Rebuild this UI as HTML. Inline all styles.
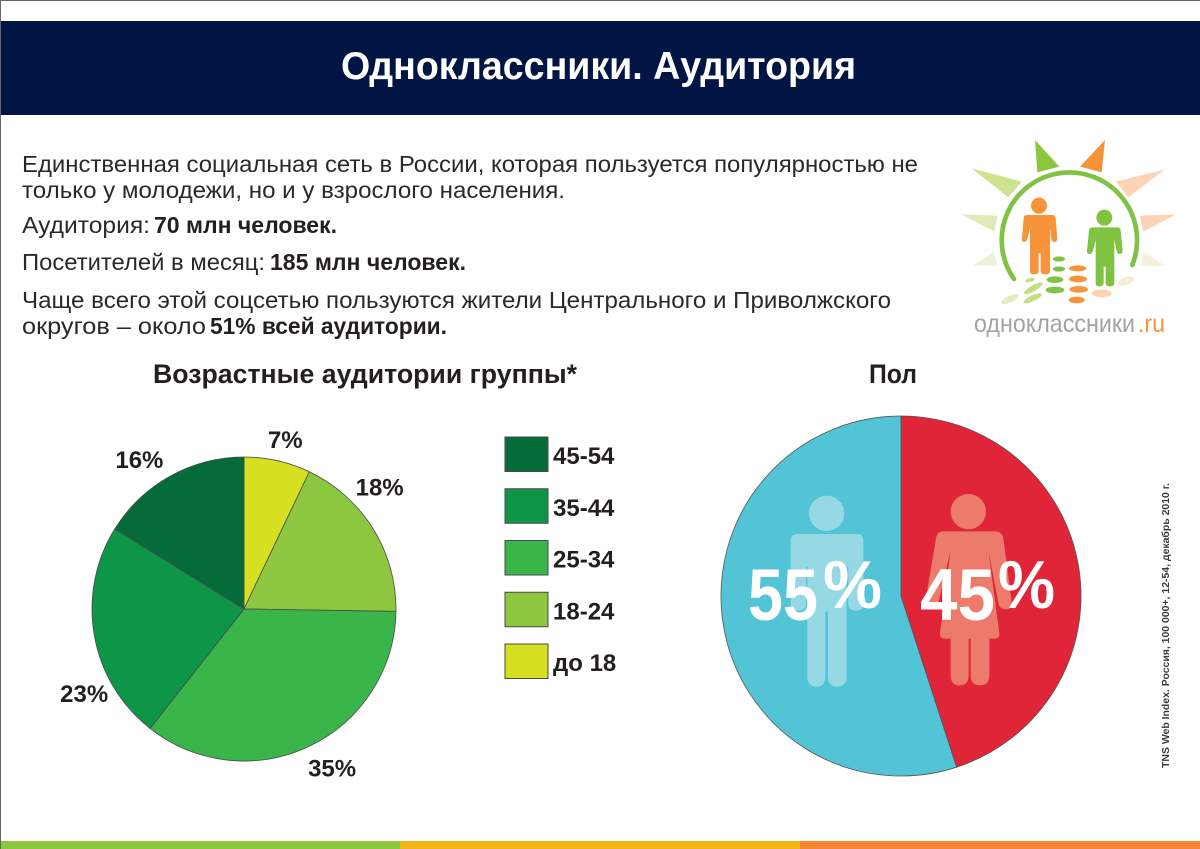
<!DOCTYPE html>
<html lang="ru">
<head>
<meta charset="utf-8">
<title>Одноклассники. Аудитория</title>
<style>
html,body{margin:0;padding:0;background:#fff;width:1200px;height:849px;overflow:hidden}
svg{display:block;font-family:"Liberation Sans","Noto Sans CJK SC",sans-serif}
.body{font-size:23.5px;fill:#2b2829}
.b{font-weight:bold;fill:#231f20;font-size:23px}
.h{font-size:27px;font-weight:bold;fill:#231f20}
</style>
</head>
<body>
<svg id="slide" xmlns="http://www.w3.org/2000/svg" width="1200" height="849" viewBox="0 0 1200 849">
  <rect width="1200" height="849" fill="#fff"/>
  <rect width="1200" height="1" fill="#666"/>
  <rect width="1" height="849" fill="#666"/>

  <rect x="1" y="21" width="1199" height="94" fill="#001544"/>
  <text x="341" y="79" font-size="39" font-weight="bold" fill="#fff" textLength="515">Одноклассники. Аудитория</text>

  <g>
    <text class="body" x="22" y="172" textLength="896">Единственная социальная сеть в России, которая пользуется популярностью не</text>
    <text class="body" x="22" y="198" textLength="543">только у молодежи, но и у взрослого населения.</text>
    <text class="body" x="22" y="233" textLength="128">Аудитория:</text>
    <text class="body b" x="154" y="233" textLength="183">70 млн человек.</text>
    <text class="body" x="22" y="270" textLength="243">Посетителей в месяц:</text>
    <text class="body b" x="270" y="270" textLength="196">185 млн человек.</text>
    <text class="body" x="22" y="308" textLength="869">Чаще всего этой соцсетью пользуются жители Центрального и Приволжского</text>
    <text class="body" x="22" y="334" textLength="184">округов – около</text>
    <text class="body b" x="210" y="334" textLength="237">51% всей аудитории.</text>
  </g>

  <g transform="translate(950 125) scale(.33333)">
    <polygon points="255,45 328,125 262,142" fill="#8cc63f"/>
    <polygon points="465,45 455,142 390,125" fill="#f7943a"/>
    <polygon points="65,130 215,170 175,217" fill="#cfe28f"/>
    <polygon points="645,133 535,217 498,170" fill="#fbd3b5"/>
    <polygon points="35,268 142,272 133,320" fill="#dfeab5"/>
    <polygon points="678,268 570,272 580,320" fill="#fbd3b5"/>
    <polygon points="67,422 132,380 142,422" fill="#ecf2d8"/>
    <polygon points="645,422 580,380 572,422" fill="#f5efdc"/>
    <path d="M192 462A203 203 0 1 1 547 420" fill="none" stroke="#80c241" stroke-width="14" stroke-linecap="round"/>
    <circle cx="267" cy="242" r="24" fill="#f7943a"/>
    <path d="M230 270H308Q316 270 317 280L322 340Q322 351 313 351Q306 351 304 342L300 310V440Q300 448 287 448Q273 448 272 440V385H266V440Q265 448 252 448Q240 448 240 440V310L232 342Q230 351 222 351Q214 351 216 340L221 280Q222 270 230 270Z" fill="#f7943a"/>
    <circle cx="463" cy="278" r="24" fill="#80c241"/>
    <path d="M426 307H503Q511 307 512 317L518 376Q518 387 509 387Q502 387 500 378L493 345V475Q493 484 480 484Q468 484 467 475V425H461V475Q460 484 448 484Q437 484 437 475V345L429 378Q427 387 418 387Q410 387 411 376L417 317Q418 307 426 307Z" fill="#80c241"/>
    <g fill="#80c241">
      <ellipse cx="327" cy="402" rx="18" ry="8"/><ellipse cx="327" cy="432" rx="18" ry="8"/>
      <ellipse cx="315" cy="464" rx="25" ry="10"/><ellipse cx="315" cy="495" rx="28" ry="10"/>
    </g>
    <g fill="#f7943a">
      <ellipse cx="383" cy="430" rx="26" ry="9"/><ellipse cx="384" cy="462" rx="27" ry="10"/>
      <ellipse cx="386" cy="493" rx="28" ry="10"/><ellipse cx="380" cy="525" rx="24" ry="10"/>
    </g>
    <g fill="#c5dd85">
      <ellipse cx="250" cy="490" rx="32" ry="9" transform="rotate(-30 250 490)"/>
      <ellipse cx="248" cy="520" rx="30" ry="9" transform="rotate(-25 248 520)"/>
      <ellipse cx="240" cy="465" rx="15" ry="6" transform="rotate(-15 240 465)"/>
    </g>
    <ellipse cx="180" cy="522" rx="28" ry="10" transform="rotate(-25 180 522)" fill="#e2edc0"/>
    <ellipse cx="455" cy="505" rx="30" ry="12" fill="#fbd3b5"/>
    <ellipse cx="528" cy="468" rx="25" ry="12" transform="rotate(-20 528 468)" fill="#f3efd5"/>
  </g>
  <text x="974" y="332" font-size="25" fill="#a3a3a3" textLength="161">одноклассники</text>
  <text x="1138" y="332" font-size="25" fill="#f7943a" textLength="27">.ru</text>

  <text class="h" x="153" y="383" textLength="424">Возрастные аудитории группы*</text>
  <text class="h" x="869" y="383" textLength="48">Пол</text>

  <g id="age-pie"></g>
  <g id="age-legend"></g>
  <g id="gender-pie"></g>

  <g transform="translate(720 410) scale(.33333)" fill="#96d8e3">
    <circle cx="320" cy="310" r="53"/>
    <path d="M232 372H410Q430 372 430 392V580Q430 602 408 602Q385 602 385 580V470H380V800Q380 830 350 830Q324 830 324 800V605H316V800Q316 830 290 830Q262 830 262 800V470H258V580Q258 602 235 602Q212 602 212 580V392Q212 372 232 372Z"/>
  </g>
  <g transform="translate(720 410) scale(.33333)" fill="#ed7b6c">
    <circle cx="745" cy="305" r="53"/>
    <path d="M670 364H825Q846 364 850 385L875 575Q878 598 857 598Q838 598 835 578L805 420L838 670Q840 686 824 686H808V795Q808 826 780 826Q752 826 752 795V686H746V795Q746 826 718 826Q692 826 692 795V686H676Q658 686 660 670L692 420L655 578Q651 598 632 598Q612 598 616 575L648 385Q651 364 670 364Z"/>
  </g>

  <g fill="#fff" font-weight="bold">
    <text x="748" y="620" font-size="73" textLength="70">55</text>
    <text x="823" y="608" font-size="68" textLength="59">%</text>
    <text x="920" y="620" font-size="73" textLength="75">45</text>
    <text x="998" y="608" font-size="68" textLength="57">%</text>
  </g>

  <text transform="translate(1169 768) rotate(-90)" font-size="10" font-weight="bold" fill="#3a3a3a" textLength="285">TNS Web Index. Россия, 100 000+, 12-54, декабрь 2010 г.</text>

  <rect x="1" y="841" width="400" height="8" fill="#8dc63f"/>
  <rect x="400" y="841" width="400" height="8" fill="#f3b61a"/>
  <rect x="800" y="841" width="400" height="8" fill="#f58634"/>
</svg>

<script>
var ageCategories = ['до 18', '18-24', '25-34', '35-44', '45-54'];
var ageValues = [7, 18, 35, 23, 16];
var ageColors = ['#d6df20', '#8dc63f', '#39b54a', '#0d9648', '#056b38'];
var genderCategories = ['Женщины', 'Мужчины'];
var genderValues = [45, 55];
var genderColors = ['#e12538', '#52c4d6'];
var ageLabelAngleNudge = [1, -10, -3.5, -18, -6];
var ageLabelRadiusNudge = [-6, 2, 2, 1, 2];

var NS = 'http://www.w3.org/2000/svg';
document.querySelectorAll('text[textLength]').forEach(function (el) {
  el.setAttribute('lengthAdjust', 'spacingAndGlyphs');
});
function polar(cx, cy, r, deg) {
  var a = (deg - 90) * Math.PI / 180;
  return [cx + r * Math.cos(a), cy + r * Math.sin(a)];
}
function angleScale(values) {
  var total = values.reduce(function (s, v) { return s + v; }, 0);
  return function (v) { return v / total * 360; };
}
function slicePath(cx, cy, r, a0, a1) {
  var p0 = polar(cx, cy, r, a0), p1 = polar(cx, cy, r, a1);
  return 'M' + cx + ' ' + cy + 'L' + p0[0] + ' ' + p0[1] + 'A' + r + ' ' + r + ' 0 ' + (a1 - a0 > 180 ? 1 : 0) + ' 1 ' + p1[0] + ' ' + p1[1] + 'Z';
}

// Age pie
(function () {
  var g = document.getElementById('age-pie');
  var cx = 244, cy = 609, r = 152;
  var toAngle = angleScale(ageValues);
  var a = 0;
  ageValues.forEach(function (v, i) {
    var a1 = a + toAngle(v);
    var p = document.createElementNS(NS, 'path');
    p.setAttribute('d', slicePath(cx, cy, r, a, a1));
    p.setAttribute('fill', ageColors[i]);
    p.setAttribute('stroke', '#4a4a4a');
    p.setAttribute('stroke-width', '0.8');
    
    
    g.appendChild(p);
    var pos = polar(cx, cy, 180 + ageLabelRadiusNudge[i], (a + a1) / 2 + ageLabelAngleNudge[i]);
    var t = document.createElementNS(NS, 'text');
    t.setAttribute('x', pos[0]);
    t.setAttribute('y', pos[1] + 8);
    t.setAttribute('text-anchor', 'middle');
    t.setAttribute('font-size', '24');
    t.setAttribute('font-weight', 'bold');
    t.setAttribute('fill', '#231f20');
    
    
    t.textContent = v + '%';
    g.appendChild(t);
    a = a1;
  });
})();

// Legend, listed from oldest group to youngest
(function () {
  var g = document.getElementById('age-legend');
  var n = ageCategories.length;
  for (var k = 0; k < n; k++) {
    var i = n - 1 - k;
    var top = 437 + k * 51.75;
    var box = document.createElementNS(NS, 'rect');
    box.setAttribute('x', 505);
    box.setAttribute('y', top);
    box.setAttribute('width', 43);
    box.setAttribute('height', 34.5);
    box.setAttribute('fill', ageColors[i]);
    box.setAttribute('stroke', '#4a4a4a');
    box.setAttribute('stroke-width', '1');
    
    
    g.appendChild(box);
    var t = document.createElementNS(NS, 'text');
    t.setAttribute('x', 553);
    t.setAttribute('y', top + 27);
    t.setAttribute('font-size', '24');
    t.setAttribute('font-weight', 'bold');
    t.setAttribute('fill', '#231f20');
    
    
    t.textContent = ageCategories[i];
    g.appendChild(t);
  }
})();

// Gender pie
(function () {
  var g = document.getElementById('gender-pie');
  var cx = 901, cy = 596, r = 180;
  var toAngle = angleScale(genderValues);
  var a = 0;
  genderValues.forEach(function (v, i) {
    var a1 = a + toAngle(v);
    var p = document.createElementNS(NS, 'path');
    p.setAttribute('d', slicePath(cx, cy, r, a, a1));
    p.setAttribute('fill', genderColors[i]);
    p.setAttribute('stroke', '#555');
    p.setAttribute('stroke-width', '0.8');
    
    
    p.setAttribute('aria-label', genderCategories[i]);
    g.appendChild(p);
    a = a1;
  });
})();
</script>
</body>
</html>
